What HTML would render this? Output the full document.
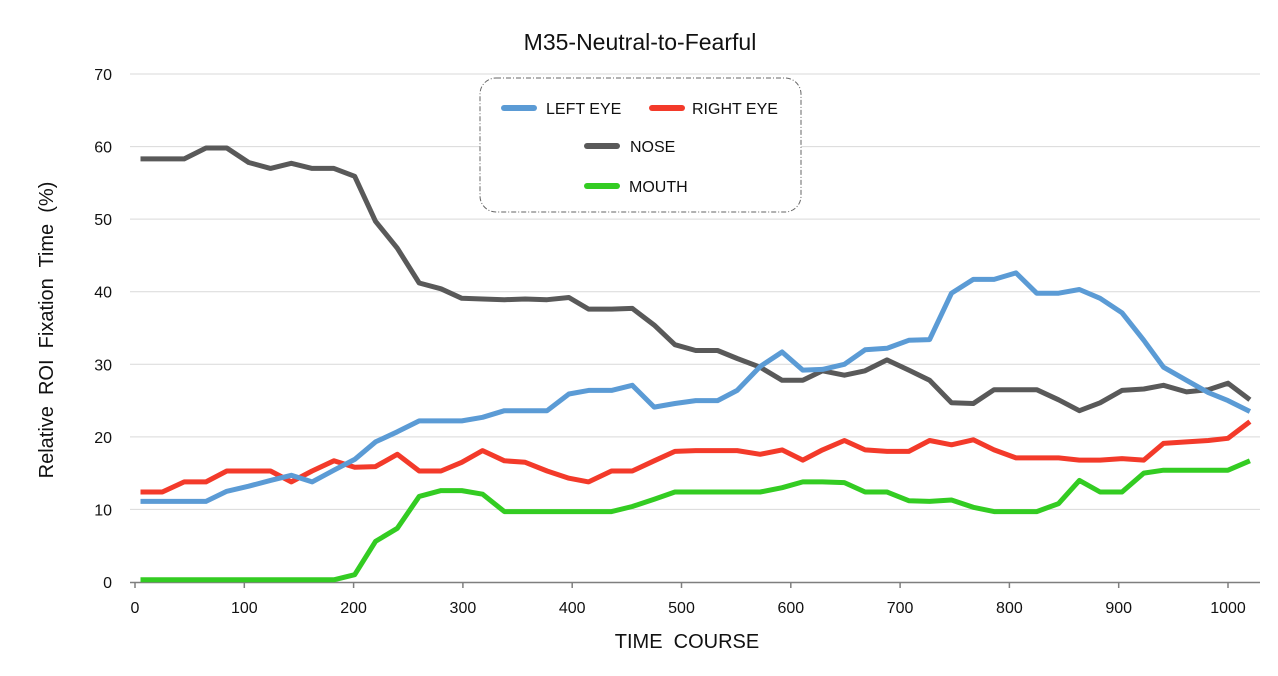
<!DOCTYPE html>
<html><head><meta charset="utf-8"><style>
html,body{margin:0;padding:0;background:#fff;}
svg{display:block;font-family:"Liberation Sans",sans-serif;}
</style></head><body>
<svg id="chart" width="1278" height="676" viewBox="0 0 1278 676">
<rect x="0" y="0" width="1278" height="676" fill="#fff"/>
<text x="640" y="50" text-anchor="middle" font-size="23" fill="#111">M35-Neutral-to-Fearful</text>
<g id="grid"></g>
<g id="yticks"></g>
<g id="xaxis"></g>
<g id="series"></g>
<text x="687" y="648" text-anchor="middle" font-size="20" fill="#111" xml:space="preserve">TIME  COURSE</text>
<text transform="translate(53,330) rotate(-90)" text-anchor="middle" font-size="20" fill="#111" xml:space="preserve">Relative  ROI  Fixation  Time  (%)</text>
<g>
<rect x="480" y="78" width="321" height="134" rx="16" ry="16" fill="#fff" stroke="#666" stroke-width="1" stroke-dasharray="5,2,1,2"/>
<g><line x1="504" y1="108" x2="534" y2="108" stroke="#5b9bd5" stroke-width="6" stroke-linecap="round"/><text x="546" y="114" font-size="16" fill="#111">LEFT EYE</text></g>
<g><line x1="652" y1="108" x2="682" y2="108" stroke="#f33a2a" stroke-width="6" stroke-linecap="round"/><text x="692" y="114" font-size="16" fill="#111">RIGHT EYE</text></g>
<g><line x1="587" y1="146" x2="617" y2="146" stroke="#595959" stroke-width="6" stroke-linecap="round"/><text x="630" y="152" font-size="16" fill="#111">NOSE</text></g>
<g><line x1="587" y1="186" x2="617" y2="186" stroke="#33cc22" stroke-width="6" stroke-linecap="round"/><text x="629" y="192" font-size="16" fill="#111">MOUTH</text></g>
</g>
</svg>
<script>
const times = [5,25,45,65,84,104,124,143,162,182,201,220,240,260,280,299,318,338,357,377,397,415,436,455,475,494,513,533,551,572,592,611,629,649,668,688,708,727,747,767,786,806,825,845,864,883,903,923,941,962,982,1000,1020];
const leftEye = [11.1,11.1,11.1,11.1,12.5,13.2,14.0,14.7,13.8,15.4,16.9,19.3,20.7,22.2,22.2,22.2,22.7,23.6,23.6,23.6,25.9,26.4,26.4,27.1,24.1,24.6,25.0,25.0,26.4,29.7,31.7,29.2,29.3,30.0,32.0,32.2,33.3,33.4,39.8,41.7,41.7,42.6,39.8,39.8,40.3,39.1,37.1,33.3,29.6,27.8,26.1,25.0,23.5];
const rightEye = [12.4,12.4,13.8,13.8,15.3,15.3,15.3,13.8,15.3,16.7,15.8,15.9,17.6,15.3,15.3,16.5,18.1,16.7,16.5,15.3,14.3,13.8,15.3,15.3,16.7,18.0,18.1,18.1,18.1,17.6,18.2,16.8,18.2,19.5,18.2,18.0,18.0,19.5,18.9,19.6,18.2,17.1,17.1,17.1,16.8,16.8,17.0,16.8,19.1,19.3,19.5,19.8,22.1];
const nose = [58.3,58.3,58.3,59.8,59.8,57.8,57.0,57.7,57.0,57.0,55.9,49.7,46.0,41.2,40.4,39.1,39.0,38.9,39.0,38.9,39.2,37.6,37.6,37.7,35.4,32.7,31.9,31.9,30.8,29.6,27.8,27.8,29.1,28.5,29.1,30.6,29.2,27.8,24.7,24.6,26.5,26.5,26.5,25.1,23.6,24.7,26.4,26.6,27.1,26.2,26.5,27.4,25.1];
const mouth = [0.3,0.3,0.3,0.3,0.3,0.3,0.3,0.3,0.3,0.3,1.0,5.6,7.4,11.8,12.6,12.6,12.1,9.7,9.7,9.7,9.7,9.7,9.7,10.4,11.4,12.4,12.4,12.4,12.4,12.4,13.0,13.8,13.8,13.7,12.4,12.4,11.2,11.1,11.3,10.3,9.7,9.7,9.7,10.8,14.0,12.4,12.4,15.0,15.4,15.4,15.4,15.4,16.7];
const yTicks = [0,10,20,30,40,50,60,70];
const xTicks = [0,100,200,300,400,500,600,700,800,900,1000];

const NS = "http://www.w3.org/2000/svg";
const xs = t => 135 + t * 1.093;
const ys = v => 582 - v * 7.257;
function mk(tag, attrs, parent) {
  const e = document.createElementNS(NS, tag);
  for (const k in attrs) e.setAttribute(k, attrs[k]);
  parent.appendChild(e);
  return e;
}
const grid = document.getElementById('grid');
const yt = document.getElementById('yticks');
yTicks.forEach(v => {
  if (v > 0) {
    const l = mk('line', {x1: 130, x2: 1260, y1: ys(v), y2: ys(v), stroke: '#d9d9d9', 'stroke-width': 1}, grid);
    
    
  }
  const t = mk('text', {x: 112, y: ys(v) + 6, 'text-anchor': 'end', 'font-size': 16, fill: '#111'}, yt);
  t.textContent = v;
  
  
});
const xa = document.getElementById('xaxis');
const axl = mk('line', {x1: 130, x2: 1260, y1: 582.5, y2: 582.5, stroke: '#7f7f7f', 'stroke-width': 1.5}, xa);


xTicks.forEach(v => {
  const tk = mk('line', {x1: xs(v), x2: xs(v), y1: 582, y2: 588, stroke: '#7f7f7f', 'stroke-width': 1.5}, xa);
  
  
  const t = mk('text', {x: xs(v), y: 613, 'text-anchor': 'middle', 'font-size': 16, fill: '#111'}, xa);
  t.textContent = v;
  
  
});
const sg = document.getElementById('series');
function drawLine(vals, color, name) {
  const d = vals.map((v, i) => (i ? 'L' : 'M') + xs(times[i]).toFixed(1) + ',' + ys(v).toFixed(1)).join('');
  const p = mk('path', {d: d, fill: 'none', stroke: color, 'stroke-width': 5, 'stroke-linejoin': 'round'}, sg);
  
  
}
drawLine(mouth, '#33cc22', 'mouth-line');
drawLine(rightEye, '#f33a2a', 'right-eye-line');
drawLine(nose, '#595959', 'nose-line');
drawLine(leftEye, '#5b9bd5', 'left-eye-line');
</script>
</body></html>
